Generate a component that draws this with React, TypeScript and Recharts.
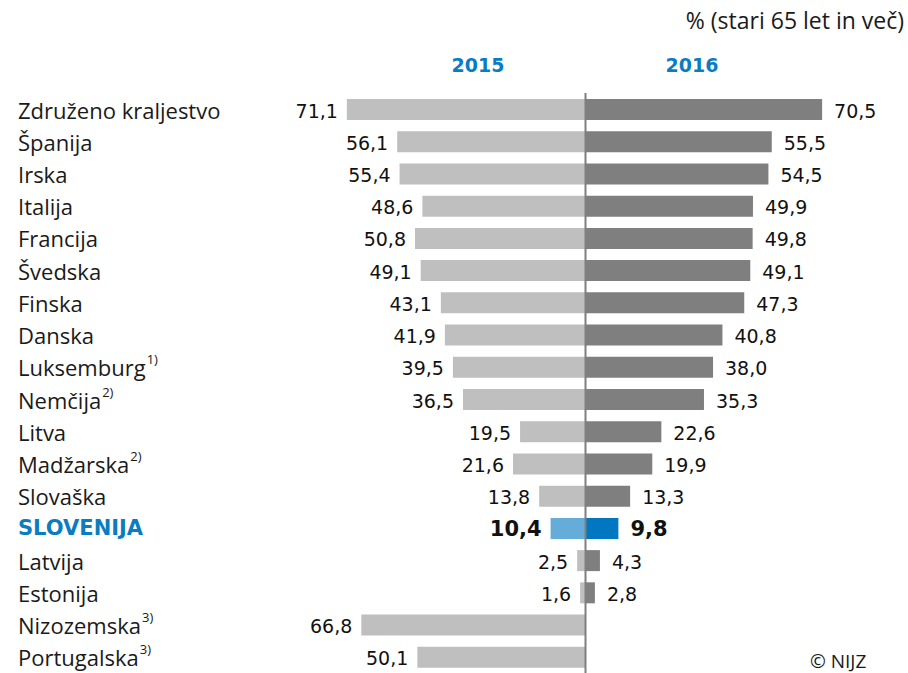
import { Bar, BarChart, Cell, LabelList, ReferenceLine, XAxis, YAxis } from "recharts";

const countries = [
  "Združeno kraljestvo",
  "Španija",
  "Irska",
  "Italija",
  "Francija",
  "Švedska",
  "Finska",
  "Danska",
  "Luksemburg",
  "Nemčija",
  "Litva",
  "Madžarska",
  "Slovaška",
  "SLOVENIJA",
  "Latvija",
  "Estonija",
  "Nizozemska",
  "Portugalska",
];
const notes = ["", "", "", "", "", "", "", "", "1)", "2)", "", "2)", "", "", "", "", "3)", "3)"];
const values2015 = [71.1, 56.1, 55.4, 48.6, 50.8, 49.1, 43.1, 41.9, 39.5, 36.5, 19.5, 21.6, 13.8, 10.4, 2.5, 1.6, 66.8, 50.1];
const values2016 = [70.5, 55.5, 54.5, 49.9, 49.8, 49.1, 47.3, 40.8, 38.0, 35.3, 22.6, 19.9, 13.3, 9.8, 4.3, 2.8, null, null];
const highlight = "SLOVENIJA";

const BLUE = "#0a7dc2";
const LABEL_FONT = "'Open Sans', sans-serif";
const VALUE_FONT = "'DejaVu Sans', Verdana, sans-serif";

const data = countries.map((name, i) => ({
  name,
  note: notes[i],
  v2015: values2015[i],
  v2016: values2016[i],
  left: -values2015[i],
  right: values2016[i],
}));

const fmt = (v: number) => v.toFixed(1).replace(".", ",");

// country names drawn at the far left, one per row
function CategoryLabel(props: any) {
  const { y, height, index } = props;
  const row = data[index];
  if (!row) return null;
  const isHl = row.name === highlight;
  const cy = Number(y) + Number(height) / 2;
  return (
    <g>
      <text
        x={18}
        y={cy}
        dominantBaseline="central"
        fontFamily={isHl ? VALUE_FONT : LABEL_FONT}
        fontWeight={isHl ? 700 : 400}
        fontSize={isHl ? 21 : 22}
        fill={isHl ? BLUE : "#1a1a1a"}
      >
        {row.name}
        {row.note ? (
          <tspan fontSize={13} dx={1} dy={-8}>
            {row.note}
          </tspan>
        ) : null}
      </text>
    </g>
  );
}

function LeftLabel(props: any) {
  const { x, y, width, height, value, index } = props;
  if (value == null) return null;
  const isHl = data[index]?.name === highlight;
  const left = Math.min(Number(x), Number(x) + Number(width));
  return (
    <text
      x={left - 9}
      y={Number(y) + Number(height) / 2 + 1}
      textAnchor="end"
      dominantBaseline="central"
      fontFamily={VALUE_FONT}
      fontSize={isHl ? 21 : 19}
      fontWeight={isHl ? 700 : 400}
      fill="#111"
    >
      {fmt(value)}
    </text>
  );
}

function RightLabel(props: any) {
  const { x, y, width, height, value, index } = props;
  if (value == null) return null;
  const isHl = data[index]?.name === highlight;
  const right = Math.max(Number(x), Number(x) + Number(width));
  return (
    <text
      x={right + 12}
      y={Number(y) + Number(height) / 2 + 1}
      textAnchor="start"
      dominantBaseline="central"
      fontFamily={VALUE_FONT}
      fontSize={isHl ? 21 : 19}
      fontWeight={isHl ? 700 : 400}
      fill="#111"
    >
      {fmt(value)}
    </text>
  );
}

export default function App() {
  return (
    <div style={{ width: 908, height: 673, position: "relative", background: "#fff" }}>
      <style>{`body{margin:0}`}</style>
      <BarChart
        width={908}
        height={673}
        data={data}
        layout="vertical"
        stackOffset="sign"
        margin={{ top: 93, right: 54, bottom: 0, left: 317 }}
        barSize={21}
      >
        <text x={904} y={29} textAnchor="end" fontFamily={LABEL_FONT} fontSize={23} fill="#1a1a1a">
          % (stari 65 let in več)
        </text>
        <text x={478} y={72} textAnchor="middle" fontFamily={VALUE_FONT} fontWeight={700} fontSize={19} fill={BLUE}>
          2015
        </text>
        <text x={692} y={72} textAnchor="middle" fontFamily={VALUE_FONT} fontWeight={700} fontSize={19} fill={BLUE}>
          2016
        </text>
        <text x={810} y={668} fontFamily={LABEL_FONT} fontSize={19} fill="#1a1a1a">
          © NIJZ
        </text>
        <XAxis type="number" domain={[-80, 80]} hide />
        <YAxis type="category" dataKey="name" hide />
        <Bar dataKey="left" stackId="s" isAnimationActive={false}>
          {data.map((d) => (
            <Cell key={d.name} fill={d.name === highlight ? "#65acd9" : "#bfbfbf"} />
          ))}
          <LabelList dataKey="v2015" content={<LeftLabel />} />
          <LabelList dataKey="name" content={<CategoryLabel />} />
        </Bar>
        <Bar dataKey="right" stackId="s" isAnimationActive={false}>
          {data.map((d) => (
            <Cell key={d.name} fill={d.name === highlight ? "#0077c0" : "#7f7f7f"} />
          ))}
          <LabelList dataKey="v2016" content={<RightLabel />} />
        </Bar>
        <ReferenceLine x={0} stroke="#7f7f7f" strokeWidth={2} />
      </BarChart>
    </div>
  );
}
